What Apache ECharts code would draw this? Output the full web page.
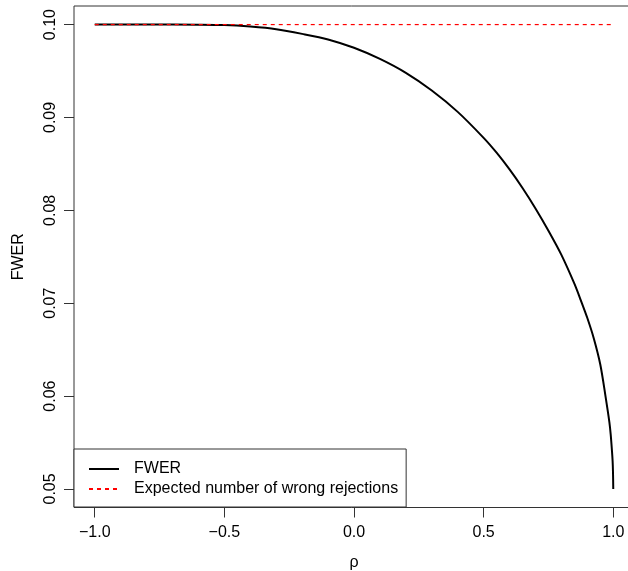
<!DOCTYPE html>
<html>
<head>
<meta charset="utf-8">
<script src="https://cdn.jsdelivr.net/npm/echarts@6/dist/echarts.min.js"></script>
<style>
  html, body { margin: 0; padding: 0; background: #fff; overflow: hidden; }
  #chart { width: 628px; height: 571px; }
</style>
</head>
<body>
<div id="chart"></div>
<script>
// Correlation values and the family-wise error rate of two tests at each
const rho = [-1.0, -0.8, -0.6, -0.5, -0.4, -0.3, -0.2, -0.1, 0.0, 0.1, 0.2, 0.3,
             0.4, 0.5, 0.55, 0.6, 0.65, 0.7, 0.75, 0.8, 0.85, 0.875, 0.9, 0.925,
             0.95, 0.97, 0.985, 0.99, 0.995, 0.9975, 0.999, 1.0];
const fwer = [0.1000, 0.1000, 0.09999, 0.09995, 0.09978, 0.0995, 0.0990, 0.0984, 0.0975, 0.0963,
              0.0948, 0.0929, 0.0906, 0.0878, 0.0862, 0.0844, 0.0824, 0.0802, 0.0778, 0.0752,
              0.0721, 0.0703, 0.0684, 0.0662, 0.0634, 0.0600, 0.0572, 0.0559, 0.0541, 0.0530,
              0.0518, 0.0500];
// Expected number of wrong rejections is flat over rho
const expRho = [-1.0, 1.0];
const expWrong = [0.10, 0.10];

const xTicks = [-1.0, -0.5, 0.0, 0.5, 1.0];
const yTicks = [0.05, 0.06, 0.07, 0.08, 0.09, 0.10];

const seriesNames = ['FWER', 'Expected number of wrong rejections'];

const pair = (xs, ys) => xs.map((x, i) => [x, ys[i]]);

const font = 'Liberation Sans, Arial, Helvetica, sans-serif';
const axisCol = '#333';

const chart = echarts.init(document.getElementById('chart'), null, { renderer: 'canvas' });
chart.setOption({
  animation: false,
  backgroundColor: '#fff',
  textStyle: { fontFamily: font },
  grid: {
    // the plot box runs a little past the right edge of the canvas
    left: 74, top: 6, width: 560, height: 501.5,
    outerBoundsMode: 'none',
    show: true, borderColor: axisCol, borderWidth: 1, containLabel: false
  },
  xAxis: {
    type: 'value', min: -1.08, max: 1.08,
    name: 'ρ', nameLocation: 'middle', nameGap: 47,
    nameTextStyle: { fontSize: 16, color: '#000', fontFamily: font },
    axisLine: { show: false, onZero: false },
    splitLine: { show: false },
    axisTick: { show: true, length: 10, lineStyle: { color: axisCol }, customValues: xTicks },
    axisLabel: {
      customValues: xTicks, margin: 17, fontSize: 16, color: '#000', fontFamily: font,
      formatter: v => (v < 0 ? '\u2212' : '') + Math.abs(v).toFixed(1)
    }
  },
  yAxis: {
    type: 'value', min: 0.048, max: 0.102,
    name: 'FWER', nameLocation: 'middle', nameGap: 47, nameRotate: 90,
    nameTextStyle: { fontSize: 16, color: '#000', fontFamily: font },
    axisLine: { show: false, onZero: false },
    splitLine: { show: false },
    axisTick: { show: true, length: 10, lineStyle: { color: axisCol }, customValues: yTicks },
    axisLabel: {
      customValues: yTicks, rotate: 90, margin: 15, fontSize: 16, color: '#000', fontFamily: font,
      formatter: v => v.toFixed(2)
    }
  },
  legend: {
    left: 74, top: 449, orient: 'vertical',
    backgroundColor: '#fff', borderColor: axisCol, borderWidth: 1, borderRadius: 0,
    padding: [12, 8, 10, 14],
    itemWidth: 30, itemHeight: 14, itemGap: 4,
    itemStyle: { opacity: 0 },
    textStyle: { fontSize: 16, color: '#000', fontFamily: font, padding: [0, 0, 0, 10] },
    data: seriesNames.map(n => ({ name: n }))
  },
  series: [
    {
      name: seriesNames[0], type: 'line', data: pair(rho, fwer),
      smooth: 0.3, symbol: 'none',
      lineStyle: { color: '#000', width: 2 }, itemStyle: { color: '#000' }
    },
    {
      name: seriesNames[1], type: 'line', data: pair(expRho, expWrong),
      symbol: 'none',
      lineStyle: { color: '#ff0000', width: 1.2, type: [4, 4] }, itemStyle: { color: '#ff0000' }
    }
  ]
});
</script>
</body>
</html>
